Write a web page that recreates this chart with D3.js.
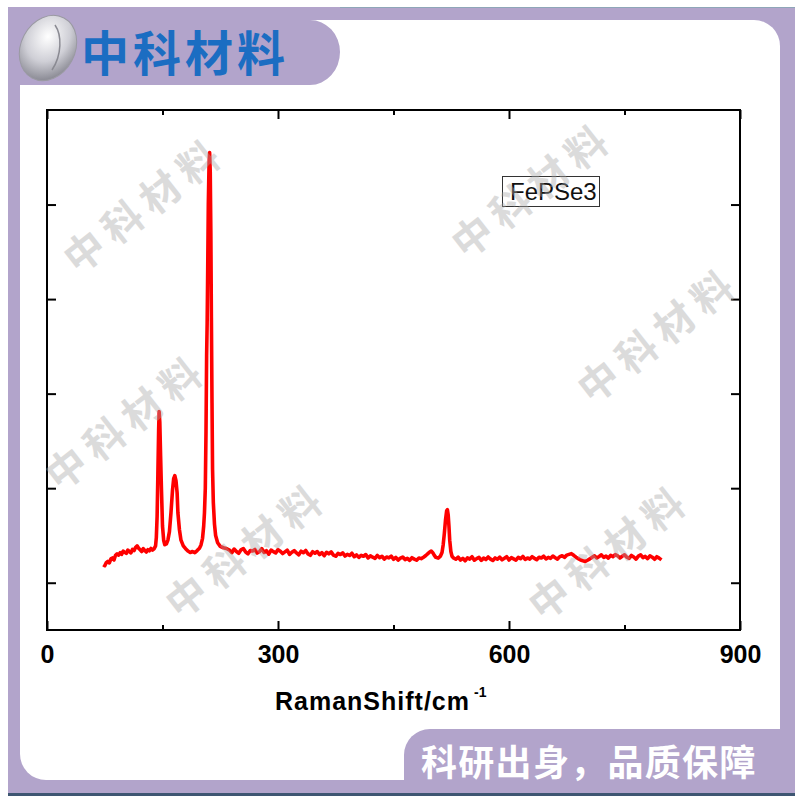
<!DOCTYPE html>
<html><head><meta charset="utf-8">
<script src="https://cdn.jsdelivr.net/npm/d3@7"></script>
<style>body{margin:0;background:#fff}svg{display:block}</style>
</head><body>
<svg id="c" width="800" height="800"></svg>
<script>
// ---- data: [Raman shift (cm-1), intensity (counts)] ----
const spectrum = [
[73,1190],[75,1180],[77,1212],[79,1225],[81,1210],[83,1252],[85,1262],[87,1240],[89,1290],[91,1305],[93,1292],[95,1318],[97,1300],[99,1335],[101,1322],[103,1310],[105,1345],[107,1330],[109,1316],[111,1352],[113,1340],[115,1372],[117,1390],[119,1365],[121,1348],[123,1330],[125,1360],[127,1342],[129,1325],[131,1350],[133,1338],[135,1362],[137,1345],[139,1358],[141,1390],
[142,1480],[143,1700],[144,2150],[145,2620],[145.6,2810],[146.5,2700],[147.5,2350],[148.6,2000],[150,1600],[151.5,1450],[153,1402],[155,1410],[157,1450],[159,1540],[161,1740],[163,1980],[164.5,2100],[166,2132],[167.5,2080],[169,1950],[170,1740],[172,1560],[174,1450],[177,1390],[180,1360],[183,1335],[186,1320],[189,1330],[192,1318],[195,1340],[198,1365],[200,1400],[202,1470],[203.5,1600],[204.5,1740],[205.6,2000],[206.5,2600],[207.3,3400],[208,3750],[208.7,4300],[209.5,5000],[210.5,5450],[211.2,5550],[212,5350],[212.8,4700],[213.5,3800],[214.3,2900],[215,2200],[216,1850],[217.5,1620],[219,1500],[221.6,1423],[225,1385],[229,1370],[233,1362],
[237,1345],[240,1318],[243,1356],[246,1330],[249,1312],[252,1348],[255,1362],[258,1325],[261,1306],[264,1340],[267,1335],[270,1352],[273,1314],[276,1328],[279,1360],[282,1320],[285,1338],[288,1302],[291,1346],[294,1329],[297,1315],[300,1350],[303,1333],[306,1308],[309,1326],[312,1344],[315,1300],[318,1322],[321,1339],[324,1316],[327,1296],[330,1334],[333,1318],[336,1341],[339,1305],[342,1290],[345,1328],[348,1312],[351,1330],[354,1298],[357,1318],[360,1285],[363,1322],[366,1306],[369,1326],[372,1292],[375,1280],[378,1310],[381,1298],[384,1316],[387,1282],[390,1300],[393,1288],[396,1312],[399,1275],[402,1294],[405,1268],[408,1290],[411,1280],[414,1298],[417,1262],[420,1284],[423,1270],[426,1258],[429,1288],[432,1266],[435,1280],[438,1250],[441,1272],[444,1262],[447,1282],[450,1248],[453,1268],[456,1240],[459,1260],[462,1272],[465,1245],[468,1258],[471,1236],[474,1265],[477,1250],[480,1238],[483,1262],[486,1255],[489,1270],[492,1288],[495,1310],[497,1325],[499,1335],[501,1318],[503,1290],[505,1268],[508,1260],[511,1282],[513,1320],[514.5,1400],[516,1520],[517.5,1660],[519,1760],[520,1772],[521,1720],[522,1600],[523,1450],[524.5,1330],[526,1280],[528,1262],[531,1248],[534,1270],[537,1240],[540,1258],[543,1232],[546,1262],[549,1250],[552,1275],[555,1238],[558,1255],[561,1268],[564,1236],[567,1260],[570,1245],[573,1272],[576,1250],[579,1235],[582,1262],[585,1248],[588,1270],[591,1242],[594,1258],[597,1275],[600,1240],[603,1265],[606,1252],[609,1238],[612,1268],[615,1255],[618,1278],[621,1246],[624,1262],[627,1250],[630,1275],[633,1258],[636,1244],[639,1270],[642,1262],[645,1280],[648,1252],[651,1268],[654,1258],[657,1282],[660,1265],[663,1250],[666,1276],[669,1285],[672,1268],[675,1292],[678,1300],[681,1308],[684,1290],[687,1270],[690,1255],[693,1240],[696,1232],[699,1225],[702,1238],[705,1252],[708,1270],[711,1285],[714,1262],[717,1278],[720,1295],[723,1268],[726,1282],[729,1260],[732,1290],[735,1276],[738,1298],[741,1285],[744,1262],[747,1280],[750,1295],[753,1270],[756,1258],[759,1288],[762,1272],[765,1250],[768,1282],[771,1295],[774,1265],[777,1278],[780,1255],[783,1285],[786,1270],[789,1248],[792,1275],[795,1260],[798,1242]
];
const xMajorTicks = [0,300,600,900];
const xMinorTicks = [150,450,750];
const yTicks = [1000,2000,3000,4000,5000];
const seriesName = "FePSe3";
const xTitle = "RamanShift/cm";
const xTitleSup = "-1";
const brandText = "中科材料";
const sloganText = "科研出身，品质保障";
const watermarks = [[143,203],[531,188],[657,333],[125,420],[245,548],[608,550]];

const svg = d3.select("#c");
const purple = "#b2a4cb";

// ---- frame decoration ----
svg.append("rect").attr("x",8).attr("y",7).attr("width",787).attr("height",788).attr("fill",purple);
svg.append("line").attr("x1",8).attr("x2",795).attr("y1",7.5).attr("y2",7.5).attr("stroke","#8fa6b8").attr("stroke-width",1);
svg.append("rect").attr("x",20).attr("y",20).attr("width",760).attr("height",760).attr("rx",26).attr("fill","#fff");
svg.append("path").attr("fill",purple)
  .attr("d","M8,7 H340 V20 H310 A30,32 0 0 1 340,52 A30,33 0 0 1 310,85 H8 Z");
svg.append("path").attr("fill",purple)
  .attr("d","M404,795 V755 A26,26 0 0 1 430,729 H795 V795 Z");
svg.append("rect").attr("x",8).attr("y",793).attr("width",787).attr("height",3).attr("fill","#3e5672");

// logo
const defs = svg.append("defs");
const rg = defs.append("radialGradient").attr("id","lg").attr("cx","40%").attr("cy","35%").attr("r","70%");
rg.append("stop").attr("offset","0%").attr("stop-color","#ffffff");
rg.append("stop").attr("offset","55%").attr("stop-color","#cfcfd6");
rg.append("stop").attr("offset","100%").attr("stop-color","#85858f");
svg.append("ellipse").attr("cx",48).attr("cy",48).attr("rx",27).attr("ry",34)
  .attr("transform","rotate(28,48,48)").attr("fill","url(#lg)").attr("stroke","#9a9aa2").attr("stroke-width",1);
svg.append("path").attr("d","M55,25 C62,35 62,55 52,70").attr("fill","none").attr("stroke","#8a8a92").attr("stroke-width",1.5);

svg.append("text").attr("x",81).attr("y",71).text(brandText)
  .attr("font-family","'Noto Sans CJK SC'").attr("font-weight",700).attr("font-size",48)
  .attr("letter-spacing",4).attr("fill","#1b6dc2");

svg.append("text").attr("x",421).attr("y",776).text(sloganText)
  .attr("font-family","'Noto Sans CJK SC'").attr("font-weight",700).attr("font-size",36)
  .attr("letter-spacing",1.3).attr("fill","#fff");

// ---- chart ----
const L=47,R=740,T=110,B=630;
const x = d3.scaleLinear().domain([0,900]).range([L,R]);
const y = d3.scaleLinear().domain([500,6000]).range([B,T]);

svg.append("rect").attr("x",L).attr("y",T).attr("width",R-L).attr("height",B-T).attr("fill","#fff");

const line = d3.line().x(d=>x(d[0])).y(d=>y(d[1]));
svg.append("path").datum(spectrum).attr("d",line).attr("fill","none")
  .attr("stroke","#ff0000").attr("stroke-width",3.6).attr("stroke-linejoin","round");

// legend
svg.append("rect").attr("x",502.5).attr("y",176.5).attr("width",97).attr("height",30)
  .attr("fill","#fff").attr("stroke","#333").attr("stroke-width",1);
svg.append("text").attr("x",510).attr("y",200).text(seriesName)
  .attr("font-family","'Liberation Sans',Arial,sans-serif").attr("font-size",24).attr("fill","#111");

const fontAx = "'Liberation Sans',Arial,sans-serif";
function styleAxis(g){ g.selectAll(".domain").remove(); g.selectAll("line").attr("stroke","#000").attr("stroke-width",2); }

const gb = svg.append("g").attr("transform",`translate(0,${B})`)
  .call(d3.axisBottom(x).tickValues(xMajorTicks).tickSizeInner(-9).tickSizeOuter(0).tickPadding(15).tickFormat(d3.format("d")));
styleAxis(gb);
gb.selectAll("text").attr("font-family",fontAx).attr("font-weight","bold").attr("font-size",25).attr("fill","#000");
const gbm = svg.append("g").attr("transform",`translate(0,${B})`)
  .call(d3.axisBottom(x).tickValues(xMinorTicks).tickSizeInner(-5).tickSizeOuter(0).tickFormat(""));
styleAxis(gbm);
const gt = svg.append("g").attr("transform",`translate(0,${T})`)
  .call(d3.axisTop(x).tickValues(xMajorTicks).tickSizeInner(-9).tickSizeOuter(0).tickFormat(""));
styleAxis(gt);
const gtm = svg.append("g").attr("transform",`translate(0,${T})`)
  .call(d3.axisTop(x).tickValues(xMinorTicks).tickSizeInner(-5).tickSizeOuter(0).tickFormat(""));
styleAxis(gtm);
const gl = svg.append("g").attr("transform",`translate(${L},0)`)
  .call(d3.axisLeft(y).tickValues(yTicks).tickSizeInner(-9).tickSizeOuter(0).tickFormat(""));
styleAxis(gl);
const gr = svg.append("g").attr("transform",`translate(${R},0)`)
  .call(d3.axisRight(y).tickValues(yTicks).tickSizeInner(-9).tickSizeOuter(0).tickFormat(""));
styleAxis(gr);

svg.append("rect").attr("x",L).attr("y",T).attr("width",R-L).attr("height",B-T)
  .attr("fill","none").attr("stroke","#000").attr("stroke-width",2);

const tt = svg.append("text").attr("x",275).attr("y",710)
  .attr("font-family",fontAx).attr("font-weight","bold").attr("font-size",25).attr("letter-spacing",1).attr("fill","#000");
tt.append("tspan").text(xTitle);
tt.append("tspan").text(xTitleSup).attr("font-size",14).attr("dx",4).attr("dy",-13).attr("letter-spacing",0);

// watermarks
watermarks.forEach(([cx,cy])=>{
  svg.append("text").attr("transform",`translate(${cx},${cy}) rotate(-38)`)
    .attr("text-anchor","middle").attr("dominant-baseline","central").text(brandText)
    .attr("font-family","'Noto Sans CJK SC'").attr("font-weight",700).attr("font-size",40)
    .attr("letter-spacing",8).attr("fill","#a8a8a8").attr("opacity",0.4);
});
</script>
</body></html>
